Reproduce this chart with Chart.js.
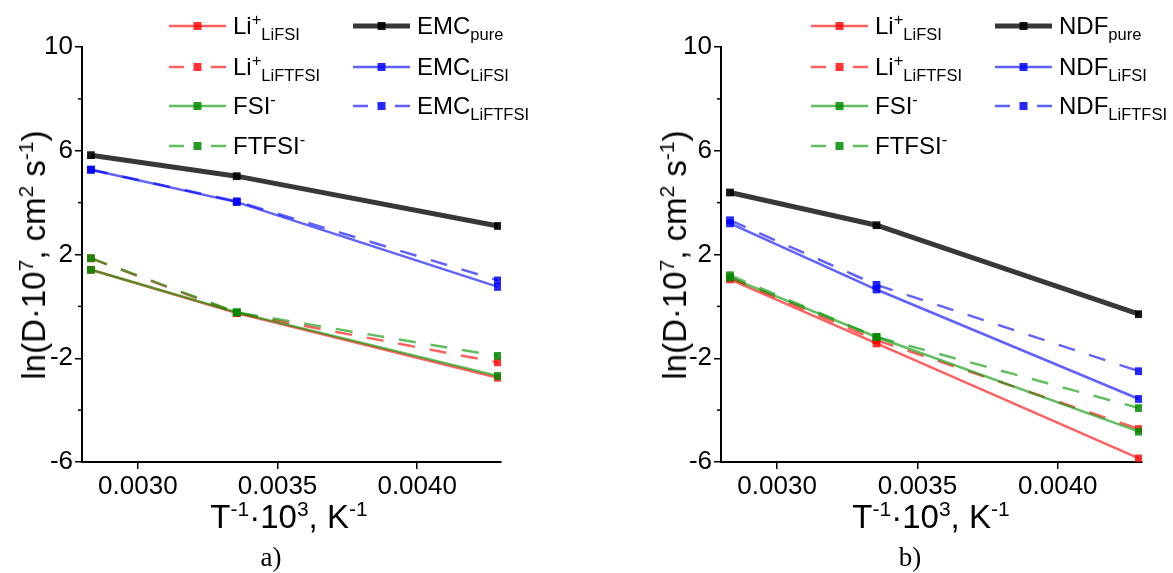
<!DOCTYPE html>
<html>
<head>
<meta charset="utf-8">
<script src="https://cdn.jsdelivr.net/npm/chart.js@4.4.1/dist/chart.umd.min.js"></script>
<style>
  body { margin: 0; width: 1173px; height: 573px; background: #fff; position: relative; overflow: hidden;
         font-family: 'Liberation Sans', Arial, sans-serif; color: #000; }
  .panel { position: absolute; top: 0; height: 573px; }
  .leg { position: absolute; display: flex; align-items: center; height: 30px; font-size: 24px; white-space: nowrap; }
  .leg svg { margin-right: 7px; flex: none; }
  .leg sub, .leg sup { font-size: 16.5px; line-height: 0; }
  .title { position: absolute; font-size: 33px; white-space: nowrap; line-height: 40px; }
  .title sup { font-size: 21px; line-height: 0; }
  .ytitle { transform: translate(-50%, -50%) rotate(-90deg); }
  .xtitle { transform: translate(-50%, -50%); }
  .plabel { position: absolute; font-family: 'Liberation Serif', 'Times New Roman', serif; font-size: 27px;
            transform: translate(-50%, -50%); }
</style>
</head>
<body>
<div class="panel" style="left:0;width:560px"><canvas id="chartA"></canvas></div>
<div class="panel" style="left:560px;width:613px"><canvas id="chartB"></canvas></div>
<div id="overlay"></div>
<script>
// x = 1/T values, temperatures 80, 25, -40 C
const invT = [0.002832, 0.003354, 0.004289];
const xTicks = [0.0030, 0.0035, 0.0040];
const yTicks = [-6, -2, 2, 6, 10];
const yMinor = [-4, 0, 4, 8];

// panel a) EMC
const liLiFSI_a = [1.41, -0.26, -2.75];
const liLiFTFSI_a = [1.85, -0.26, -2.16];
const fsi_a = [1.41, -0.23, -2.68];
const ftfsi_a = [1.86, -0.23, -1.91];
const emcPure = [5.83, 5.02, 3.10];
const emcLiFSI = [5.27, 4.02, 0.75];
const emcLiFTFSI = [5.27, 4.05, 1.00];

// panel b) NDF
const liLiFSI_b = [1.04, -1.43, -5.86];
const liLiFTFSI_b = [1.11, -1.30, -4.73];
const fsi_b = [1.11, -1.18, -4.83];
const ftfsi_b = [1.20, -1.18, -3.92];
const ndfPure = [4.39, 3.13, -0.30];
const ndfLiFSI = [3.20, 0.65, -3.57];
const ndfLiFTFSI = [3.32, 0.83, -2.50];

const labelsA = ['Li<sup>+</sup><sub>LiFSI</sub>', 'Li<sup>+</sup><sub>LiFTFSI</sub>', 'FSI<sup>-</sup>', 'FTFSI<sup>-</sup>',
                 'EMC<sub>pure</sub>', 'EMC<sub>LiFSI</sub>', 'EMC<sub>LiFTFSI</sub>'];
const labelsB = ['Li<sup>+</sup><sub>LiFSI</sub>', 'Li<sup>+</sup><sub>LiFTFSI</sub>', 'FSI<sup>-</sup>', 'FTFSI<sup>-</sup>',
                 'NDF<sub>pure</sub>', 'NDF<sub>LiFSI</sub>', 'NDF<sub>LiFTFSI</sub>'];

// styles per series (same order as labels)
const red = 'rgba(255,0,0,0.62)', green = 'rgba(0,150,0,0.62)', blue = 'rgba(0,0,255,0.62)', black = 'rgba(0,0,0,0.78)';
const lineColors = [red, red, green, green, black, blue, blue];
const markColors = ['rgba(255,0,0,0.8)', 'rgba(255,0,0,0.8)', 'rgba(0,140,0,0.85)', 'rgba(0,140,0,0.85)',
                    'rgba(0,0,0,0.9)', 'rgba(0,0,255,0.85)', 'rgba(0,0,255,0.85)'];
const dashed = [false, true, false, true, false, false, true];
const widths = [2.5, 2.5, 2.5, 2.5, 5, 2.5, 2.5];
const drawOrder = [4, 4, 2, 2, 1, 3, 3];  // higher is drawn first (below)

const tickFont = { family: "'Liberation Sans', Arial, sans-serif", size: 26 };

const minorTicks = {
  id: 'minorTicks',
  afterDraw(chart) {
    const s = chart.scales.y, ctx = chart.ctx;
    ctx.save();
    ctx.strokeStyle = '#000';
    ctx.lineWidth = 1.5;
    yMinor.forEach(v => {
      const y = s.getPixelForValue(v);
      ctx.beginPath();
      ctx.moveTo(s.right - 4, y);
      ctx.lineTo(s.right, y);
      ctx.stroke();
    });
    ctx.restore();
  }
};

const makeChart = (id, series, pad) => {
  const datasets = series.map((vals, i) => ({
    data: vals.map((v, j) => ({ x: invT[j], y: v })),
    order: drawOrder[i],
    borderColor: lineColors[i],
    borderWidth: widths[i],
    borderDash: dashed[i] ? [17, 15] : [],
    pointStyle: 'rect',
    pointRadius: 5.5,
    pointBorderWidth: 0,
    pointBackgroundColor: markColors[i],
    tension: 0,
    fill: false
  }));
  return new Chart(document.getElementById(id), {
    type: 'line',
    data: { datasets },
    plugins: [minorTicks],
    options: {
      responsive: true,
      maintainAspectRatio: false,
      animation: false,
      layout: { padding: pad },
      plugins: { legend: { display: false }, tooltip: { enabled: false } },
      scales: {
        x: {
          type: 'linear', min: 0.0028, max: 0.0043,
          afterBuildTicks: s => { s.ticks = xTicks.map(v => ({ value: v })); },
          afterFit: s => { s.height = 40; },
          ticks: { color: '#000', font: tickFont, padding: 2, maxRotation: 0, callback: v => v.toFixed(4) },
          grid: { drawOnChartArea: false, color: '#000', lineWidth: 1.5, tickLength: 7 },
          border: { color: '#000', width: 2 }
        },
        y: {
          min: -6, max: 10,
          afterBuildTicks: s => { s.ticks = yTicks.map(v => ({ value: v })); },
          afterFit: s => { s.width = 82; },
          ticks: { color: '#000', font: tickFont, padding: 2 },
          grid: { drawOnChartArea: false, color: '#000', lineWidth: 1.5, tickLength: 7 },
          border: { color: '#000', width: 2 }
        }
      }
    }
  });
};

makeChart('chartA', [liLiFSI_a, liLiFTFSI_a, fsi_a, ftfsi_a, emcPure, emcLiFSI, emcLiFTFSI],
  { left: 0, right: 59, top: 47, bottom: 71 });
makeChart('chartB', [liLiFSI_b, liLiFTFSI_b, fsi_b, ftfsi_b, ndfPure, ndfLiFSI, ndfLiFTFSI],
  { left: 79, right: 31, top: 47, bottom: 71 });

// legends, titles, panel labels
const legendRows = [26, 67, 106, 146];
const overlay = document.getElementById('overlay');

const sample = i => {
  const c = lineColors[i], w = widths[i];
  const line = dashed[i]
    ? `<line x1="0" y1="10" x2="15" y2="10" stroke="${c}" stroke-width="${w}"/><line x1="42" y1="10" x2="57" y2="10" stroke="${c}" stroke-width="${w}"/>`
    : `<line x1="0" y1="10" x2="57" y2="10" stroke="${c}" stroke-width="${w}" stroke-linecap="round"/>`;
  return `<svg width="57" height="20">${line}<rect x="24.5" y="6" width="8" height="8" fill="${markColors[i]}"/></svg>`;
};

const addLegend = (labels, colLeft, colRight) => {
  labels.forEach((lab, i) => {
    const d = document.createElement('div');
    d.className = 'leg';
    const left = i < 4 ? colLeft : colRight;
    const row = i < 4 ? i : i - 4;
    d.style.left = left + 'px';
    d.style.top = (legendRows[row] - 15) + 'px';
    d.innerHTML = sample(i) + '<span>' + lab + '</span>';
    overlay.appendChild(d);
  });
};
addLegend(labelsA, 169, 353);
addLegend(labelsB, 811, 995);

const addText = (cls, html, x, y) => {
  const d = document.createElement('div');
  d.className = cls;
  d.style.left = x + 'px';
  d.style.top = y + 'px';
  d.innerHTML = html;
  overlay.appendChild(d);
};
const yTitle = 'ln(D·10<sup>7</sup>, cm<sup>2</sup> s<sup>-1</sup>)';
const xTitle = 'T<sup>-1</sup>·10<sup>3</sup>, K<sup>-1</sup>';
addText('title ytitle', yTitle, 34, 255);
addText('title ytitle', yTitle, 675, 255);
addText('title xtitle', xTitle, 289, 517);
addText('title xtitle', xTitle, 931, 517);
addText('plabel', 'a)', 271, 557);
addText('plabel', 'b)', 910, 557);
</script>
</body>
</html>
